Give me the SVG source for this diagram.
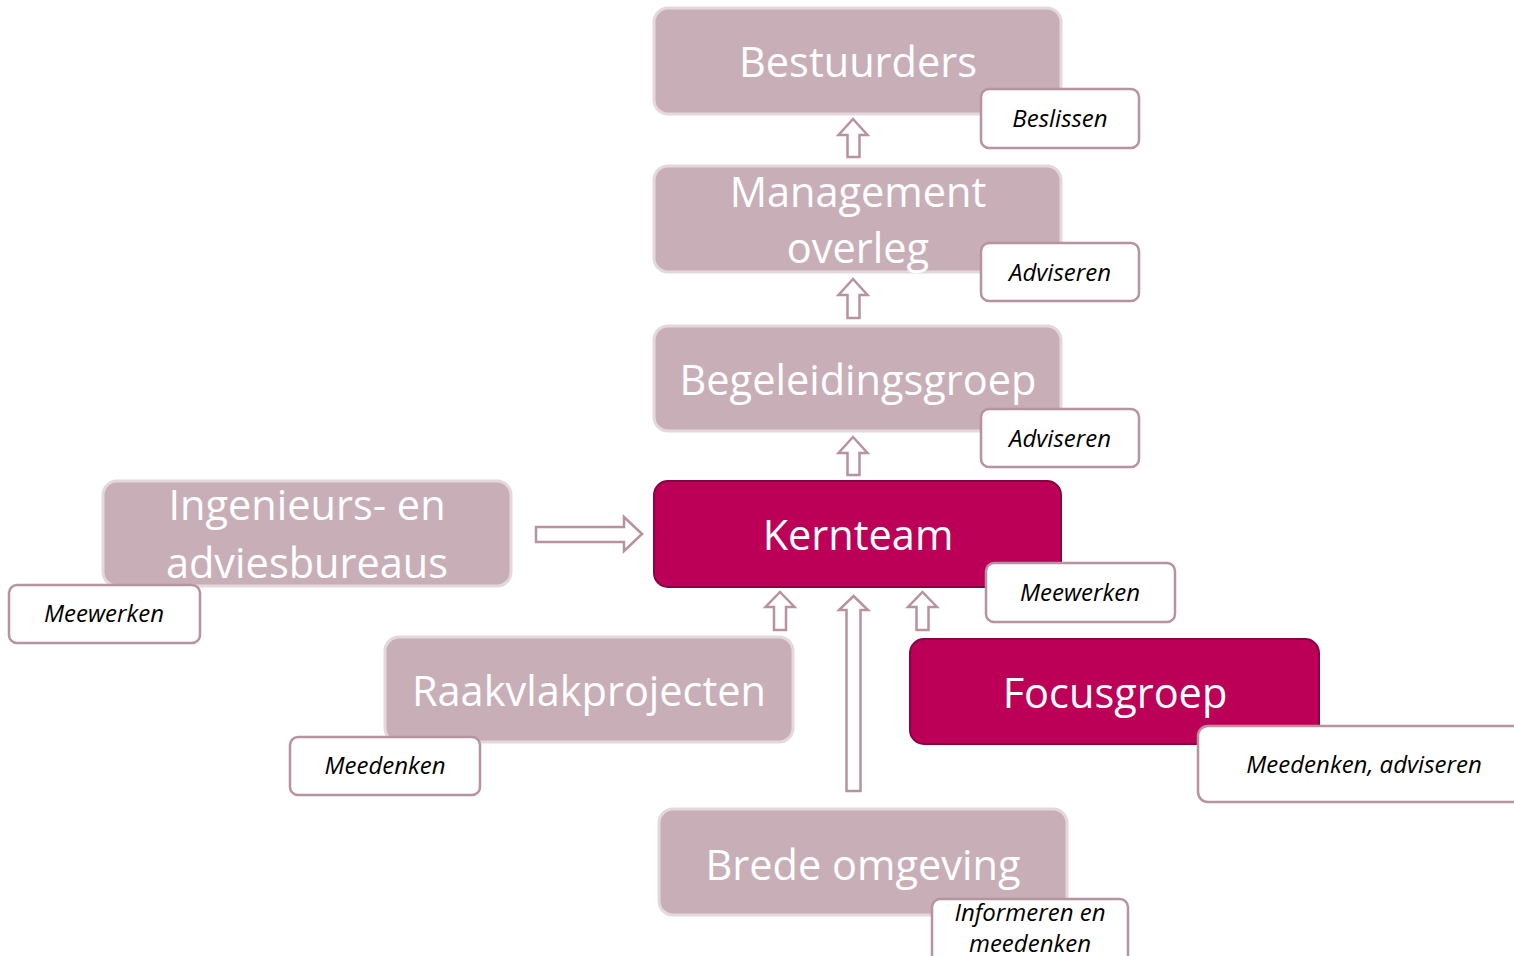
<svg xmlns="http://www.w3.org/2000/svg" width="1514" height="956" viewBox="0 0 1514 956">
<style>
.pale{fill:#c8afb7;stroke:#e4d8db;stroke-width:3}
.hot{fill:#bc0058;stroke:#8a0040;stroke-width:2}
.lbl{fill:#ffffff;stroke:#b8929f;stroke-width:2.5}
.arr{fill:#ffffff;stroke:#b8929f;stroke-width:2.5;stroke-linejoin:miter}
.big{font-family:"Open Sans","Liberation Sans",sans-serif;font-size:41.5px;fill:#ffffff;text-anchor:middle}
.sm{font-family:"Open Sans","Liberation Sans",sans-serif;font-size:24px;font-style:italic;fill:#000000;text-anchor:middle}
</style>
<g id="connectors">
<path class="arr" d="M853,119 L867.5,135 L859.5,135 L859.5,157 L847.5,157 L847.5,135 L838.5,135 Z"/>
<path class="arr" d="M853,279 L867.5,295 L859.5,295 L859.5,318 L847.5,318 L847.5,295 L838.5,295 Z"/>
<path class="arr" d="M853,437 L867.5,453 L859.5,453 L859.5,475 L847.5,475 L847.5,453 L838.5,453 Z"/>
<path class="arr" d="M780,592 L794.5,607 L786,607 L786,630 L774,630 L774,607 L765.5,607 Z"/>
<path class="arr" d="M922.5,592 L937,607 L928.5,607 L928.5,630 L916.5,630 L916.5,607 L908,607 Z"/>
<path class="arr" d="M853.5,596 L868,610 L860.5,610 L860.5,791 L846.5,791 L846.5,610 L839,610 Z"/>
<path class="arr" d="M642,534 L624,517 L624,527 L536,527 L536,542 L624,542 L624,551 Z"/>
</g>
<g id="bestuurders">
<rect class="pale" x="654" y="8" width="407" height="106" rx="14"/>
<text class="big" x="858" y="77">Bestuurders</text>
</g>
<g id="lbl-beslissen">
<rect class="lbl" x="981" y="89" width="158" height="59" rx="8"/>
<text class="sm" x="1060" y="127">Beslissen</text>
</g>
<g id="management">
<rect class="pale" x="654" y="166" width="407" height="106" rx="14"/>
<text class="big" x="858" y="207">Management</text>
<text class="big" x="858" y="263">overleg</text>
</g>
<g id="lbl-adviseren1">
<rect class="lbl" x="981" y="243" width="158" height="58" rx="8"/>
<text class="sm" x="1060" y="281">Adviseren</text>
</g>
<g id="begeleidingsgroep">
<rect class="pale" x="654" y="326" width="407" height="105" rx="14"/>
<text class="big" x="858" y="395">Begeleidingsgroep</text>
</g>
<g id="lbl-adviseren2">
<rect class="lbl" x="981" y="409" width="158" height="58" rx="8"/>
<text class="sm" x="1060" y="447">Adviseren</text>
</g>
<g id="kernteam">
<rect class="hot" x="654" y="481" width="407" height="106" rx="14"/>
<text class="big" x="858" y="550">Kernteam</text>
</g>
<g id="lbl-meewerken1">
<rect class="lbl" x="986" y="563" width="189" height="59" rx="8"/>
<text class="sm" x="1080" y="601">Meewerken</text>
</g>
<g id="ingenieurs">
<rect class="pale" x="103" y="481" width="408" height="105" rx="14"/>
<text class="big" x="307" y="520">Ingenieurs- en</text>
<text class="big" x="307" y="578">adviesbureaus</text>
</g>
<g id="lbl-meewerken2">
<rect class="lbl" x="9" y="585" width="191" height="58" rx="8"/>
<text class="sm" x="104" y="622">Meewerken</text>
</g>
<g id="raakvlak">
<rect class="pale" x="385" y="637" width="408" height="105" rx="14"/>
<text class="big" x="589" y="706">Raakvlakprojecten</text>
</g>
<g id="lbl-meedenken">
<rect class="lbl" x="290" y="737" width="190" height="58" rx="8"/>
<text class="sm" x="385" y="774">Meedenken</text>
</g>
<g id="focusgroep">
<rect class="hot" x="910" y="639" width="409" height="105" rx="14"/>
<text class="big" x="1115" y="708">Focusgroep</text>
</g>
<g id="lbl-meedenken-adviseren">
<rect class="lbl" x="1198" y="726" width="330" height="76" rx="10"/>
<text class="sm" x="1364" y="773">Meedenken, adviseren</text>
</g>
<g id="brede">
<rect class="pale" x="659" y="809" width="408" height="106" rx="14"/>
<text class="big" x="863" y="880">Brede omgeving</text>
</g>
<g id="lbl-informeren">
<rect class="lbl" x="932" y="899" width="196" height="70" rx="8"/>
<text class="sm" x="1030" y="921">Informeren en</text>
<text class="sm" x="1030" y="952">meedenken</text>
</g>
</svg>
